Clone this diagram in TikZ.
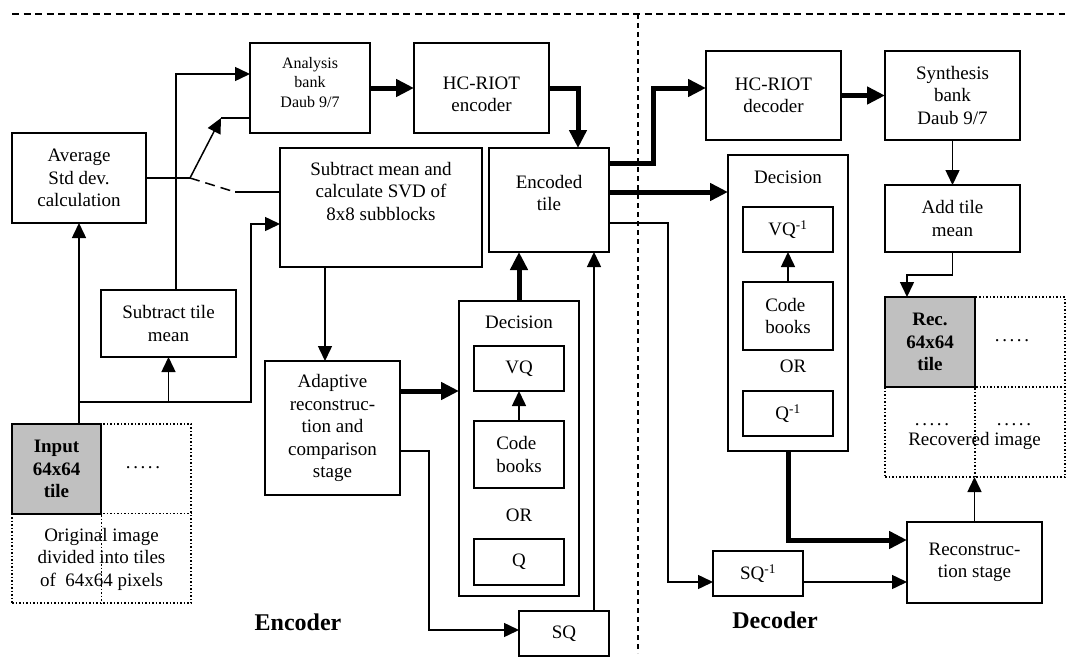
\documentclass[tikz,border=0pt]{standalone}
\usepackage{fontspec}
\setmainfont{Liberation Serif}
\usetikzlibrary{arrows.meta,calc}
\definecolor{tilegray}{RGB}{192,192,192}
\newcommand{\fmain}{\fontsize{19}{22.5}\selectfont}
\newcommand{\fsmall}{\fontsize{16}{19.5}\selectfont}
\newcommand{\fbig}{\fontsize{24}{28}\selectfont\bfseries}
\newcommand{\fdots}{.\hspace{2.6pt}.\hspace{2.6pt}.\hspace{2.6pt}.\hspace{2.6pt}.}
\tikzset{
  box/.style={draw, line width=1.7pt, inner sep=0pt, outer sep=0pt, align=center, font=\fmain},
  plain/.style={inner sep=0pt, outer sep=0pt, align=center, font=\fmain},
  tile/.style={box, fill=tilegray, font=\fmain\bfseries},
  grid/.style={draw, dotted, line width=1.5pt, inner sep=0pt, outer sep=0pt},
  dotln/.style={dotted, line width=1.5pt},
  ln/.style={line width=1.5pt},
  arr/.style={ln, -{Triangle[length=15pt,width=14pt]}},
  tk/.style={line width=5pt},
  tarr/.style={tk, -{Triangle[length=18pt,width=17pt]}},
  sep/.style={line width=1.2pt, dash pattern=on 7pt off 4.5pt},
  vsep/.style={line width=1.2pt, dash pattern=on 5pt off 4pt},
}
\begin{document}
\begin{tikzpicture}[x=1pt,y=-1pt]
\useasboundingbox (0,0) rectangle (1068,669);
% separators
\coordinate (dl) at (12,14);
\coordinate (dr) at (1065,14);
\coordinate (vt) at (638,14);
\coordinate (vb) at (638,653);
\draw[sep] (dl) -- (dr);
\draw[vsep] (vt) -- (vb);

% ---------- Encoder side ----------
\node[grid, minimum width=179pt, minimum height=179pt] (igrid) at (101.5,513.5) {};
\draw[dotln] (igrid.north) -- (igrid.south);
\draw[dotln] (igrid.west) -- (igrid.east);
\node[tile, minimum width=89pt, minimum height=90pt] (itile) at (56.5,469) {Input\\64x64\\tile};
\node[plain, anchor=base] (idots) at (143,468) {\fdots};
\node[plain] (orig) at (101.5,559) {Original image\\divided into tiles\\of\ \ 64x64 pixels};

\node[box, minimum width=134pt, minimum height=90pt] (avg) at (79,178) {Average\\Std dev.\\calculation};
\node[box, minimum width=135pt, minimum height=67pt] (sub) at (168.5,323.5) {Subtract tile\\mean};
\node[box, font=\fsmall, minimum width=120pt, minimum height=90pt] (ana) at (310,88) {Analysis\\bank\\Daub 9/7\\[-8pt]\mbox{}};
\node[box, minimum width=202pt, minimum height=119pt] (svd) at (381,207.5) {Subtract mean and\\calculate SVD of\\8x8 subblocks\\[10pt]\mbox{}};
\node[box, minimum width=135pt, minimum height=90pt] (hce) at (481.5,88) {\mbox{}\\[3pt]HC-RIOT\\encoder};
\node[box, minimum width=120pt, minimum height=104pt] (enc) at (549,200) {Encoded\\tile\\[-8pt]\mbox{}};
\node[box, minimum width=135pt, minimum height=134pt] (adp) at (332.5,428) {Adaptive\\reconstruc-\\tion and\\comparison\\stage};

\node[box, minimum width=120pt, minimum height=295pt] (decE) at (519,448.5) {};
\node[plain] (decEl) at (519,322) {Decision};
\node[box, minimum width=90pt, minimum height=45pt] (vqE) at (519,368.5) {VQ};
\node[box, align=left, minimum width=90pt, minimum height=67pt] (cbE) at (519,454.5) {Code\\books};
\node[plain] (orE) at (519,515) {OR};
\node[box, minimum width=90pt, minimum height=46pt] (qE) at (519,562) {Q};
\node[box, minimum width=90pt, minimum height=45pt] (sq) at (564,633.5) {SQ};

\node[plain, font=\fbig] (encl) at (298,622) {Encoder};

% ---------- Decoder side ----------
\node[box, minimum width=135pt, minimum height=89pt] (hcd) at (773.5,95.5) {HC-RIOT\\decoder};
\node[box, minimum width=135pt, minimum height=89pt] (syn) at (952.5,95.5) {Synthesis\\bank\\Daub 9/7};
\node[box, minimum width=135pt, minimum height=67pt] (add) at (952.5,218.5) {Add tile\\mean};

\node[box, minimum width=120pt, minimum height=296pt] (decD) at (788,303) {};
\node[plain] (decDl) at (788,177) {Decision};
\node[box, minimum width=90pt, minimum height=45pt] (vqD) at (788,229.5) {VQ\textsuperscript{-1}};
\node[box, align=left, minimum width=90pt, minimum height=68pt] (cbD) at (788,316) {Code\\books};
\node[plain] (orD) at (793,366) {OR};
\node[box, minimum width=90pt, minimum height=45pt] (qD) at (788,413.5) {Q\textsuperscript{-1}};
\node[box, minimum width=90pt, minimum height=45pt] (sqd) at (758,573.5) {SQ\textsuperscript{-1}};

\node[grid, minimum width=180pt, minimum height=180pt] (rgrid) at (975,387) {};
\draw[dotln] (rgrid.north) -- (rgrid.south);
\draw[dotln] (rgrid.west) -- (rgrid.east);
\node[tile, minimum width=90pt, minimum height=90pt] (rtile) at (930,342) {Rec.\\64x64\\tile};
\node[plain, anchor=base] (rdots1) at (1012,341.5) {\fdots};
\node[plain, anchor=base] (rdots2) at (932,425) {\fdots};
\node[plain, anchor=base] (rdots3) at (1014,425) {\fdots};
\node[plain] (recov) at (974.5,441) {Recovered image};
\node[box, minimum width=135pt, minimum height=81pt] (rec) at (974.5,562.5) {Reconstruc-\\tion stage};

\node[plain, font=\fbig] (decl) at (775,620) {Decoder};

% ---------- Encoder connectors ----------
\draw[arr] (avg.south |- itile.north) -- (avg.south);
\coordinate (busL) at (79,402);
\coordinate (busR) at (251,402);
\draw[ln] (avg.south |- itile.north) -- (busL);
\draw[arr] (busL) -- (busR) |- ($(svd.west)+(0,16.5)$);
\draw[arr] (sub.south |- busL) -- (sub.south);
\draw[arr] ($(sub.north)+(7.5,0)$) |- ($(ana.west)+(0,-14)$);
% switch
\coordinate (sw) at (190,178);
\coordinate (swT) at (221,118);
\coordinate (swD) at (235,192);
\draw[ln] (avg.east) -- (sw);
\draw[arr] (sw) -- (swT);
\draw[ln] (swT) -- (swT -| ana.west);
\draw[ln, dash pattern=on 10pt off 6pt] (sw) -- (swD);
\draw[ln] (swD) -- (swD -| svd.west);
\draw[arr] ($(svd.south)+(-56,0)$) coordinate (s1) -- (s1 |- adp.north);
\draw[tarr] (ana.east) -- (hce.west);
\draw[tarr] (hce.east) -| ($(enc.north)+(29,0)$);
\draw[tarr] ($(adp.east)+(0,-37)$) coordinate (a1) -- (a1 -| decE.west);
\draw[arr] ($(adp.east)+(0,23)$) -| ($(sq.west)+(-90,-3.5)$) -- ($(sq.west)+(0,-3.5)$);
\draw[arr] (cbE.north) -- (vqE.south);
\draw[tarr] (decE.north) -- (decE.north |- enc.south);
\draw[arr] ($(sq.north)+(30,0)$) coordinate (q1) -- (q1 |- enc.south);

% ---------- Encoded tile to decoder ----------
\draw[tarr] ($(enc.east)+(0,-37)$) -| ($(hcd.west)+(-53,-7.5)$) -- ($(hcd.west)+(0,-7.5)$);
\draw[tarr] ($(enc.east)+(0,-8)$) coordinate (e2) -- (e2 -| decD.west);
\draw[arr] ($(enc.east)+(0,23)$) -| ($(sqd.west)+(-45,8.5)$) -- ($(sqd.west)+(0,8.5)$);

% ---------- Decoder connectors ----------
\draw[tarr] (hcd.east) -- (syn.west);
\draw[arr] (syn.south) -- (add.north);
\draw[arr] (add.south) -- ++(0,23) -| ($(rtile.north)+(-23,0)$);
\draw[arr] (cbD.north) -- (vqD.south);
\draw[tarr] (decD.south) |- ($(rec.west)+(0,-22.5)$);
\draw[arr] ($(sqd.east)+(0,8.5)$) coordinate (d1) -- (d1 -| rec.west);
\draw[arr] (rec.north) -- (rec.north |- rgrid.south);
\end{tikzpicture}
\end{document}
